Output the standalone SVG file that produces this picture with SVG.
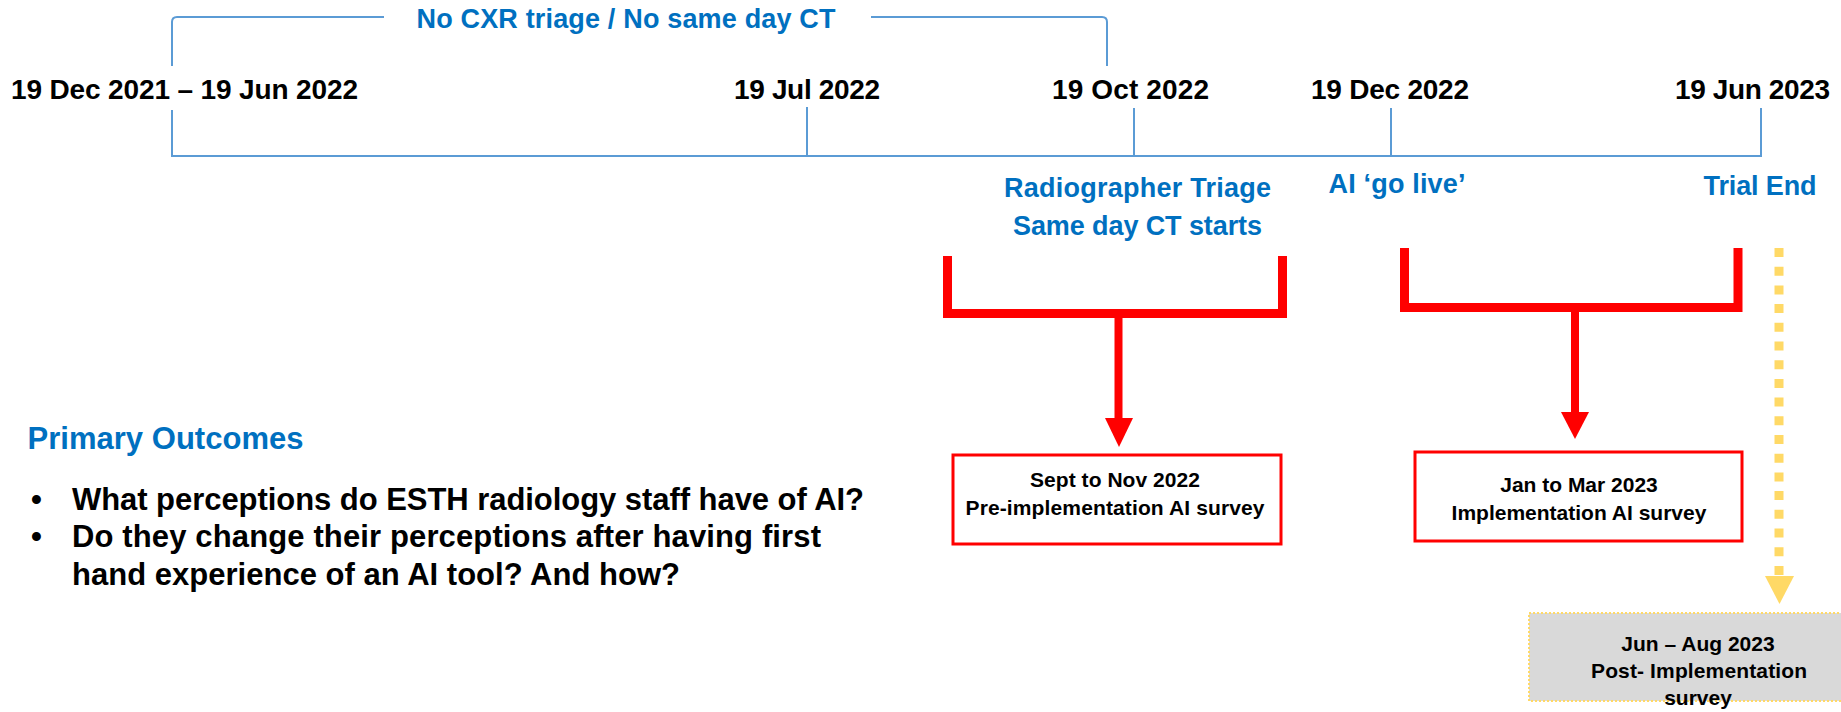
<svg xmlns="http://www.w3.org/2000/svg" width="1841" height="712" viewBox="0 0 1841 712">
<style>
.tl{fill:none;stroke:#5B9BD5;stroke-width:2}
.date{font-family:"Liberation Sans",Arial,sans-serif;font-weight:bold;font-size:28px;fill:#000}
.blue{font-family:"Liberation Sans",Arial,sans-serif;font-weight:bold;font-size:27px;fill:#0070C0}
.body{font-family:"Liberation Sans",Arial,sans-serif;font-weight:bold;font-size:31px;fill:#000}
.box{font-family:"Liberation Sans",Arial,sans-serif;font-weight:bold;font-size:21px;fill:#000}
.rb{fill:none;stroke:#FF0000;stroke-width:9;stroke-linejoin:miter;stroke-linecap:butt}
.stem{fill:none;stroke:#FF0000;stroke-width:8}
.head{fill:#FF0000}
.rbox{fill:#fff;stroke:#FF0000;stroke-width:3}
.ydot{fill:none;stroke:#FFD966;stroke-width:9;stroke-dasharray:9 9.7}
.yhead{fill:#FFD966}
</style>
<rect width="1841" height="712" fill="#fff"/>
<g id="timeline">
<path class="tl" d="M172,66 V22 Q172,17 177,17 H384 M871,17 H1102 Q1107,17 1107,22 V66"/>
<path class="tl" d="M172,110 V156 H1761 V108"/>
<path class="tl" d="M807,107 V156 M1134,108 V156 M1391,108 V156"/>
<text class="blue" x="626" y="28" text-anchor="middle" textLength="419">No CXR triage / No same day CT</text>
<text class="date" x="11" y="99" textLength="347">19 Dec 2021 – 19 Jun 2022</text>
<text class="date" x="807" y="99" text-anchor="middle" textLength="146">19 Jul 2022</text>
<text class="date" x="1130.5" y="99" text-anchor="middle" textLength="157">19 Oct 2022</text>
<text class="date" x="1390" y="99" text-anchor="middle" textLength="158">19 Dec 2022</text>
<text class="date" x="1752.5" y="99" text-anchor="middle" textLength="155">19 Jun 2023</text>
</g>
<g id="milestone-radiographer">
<text class="blue" x="1137.5" y="197" text-anchor="middle" textLength="267">Radiographer Triage</text>
<text class="blue" x="1137.5" y="235" text-anchor="middle" textLength="249">Same day CT starts</text>
</g>
<g id="milestone-ai">
<text class="blue" x="1397" y="193" text-anchor="middle" textLength="137">AI ‘go live’</text>
</g>
<g id="milestone-trial-end">
<text class="blue" x="1760" y="195" text-anchor="middle" textLength="113">Trial End</text>
</g>
<g id="bracket-1">
<polyline class="rb" points="947.5,256 947.5,313.5 1282.5,313.5 1282.5,256"/>
</g>
<g id="bracket-2">
<polyline class="rb" points="1404.5,248 1404.5,307.5 1738,307.5 1738,248"/>
</g>
<g id="box-pre">
<rect class="rbox" x="953" y="455" width="328" height="89"/>
<text class="box" x="1115" y="487" text-anchor="middle" textLength="170">Sept to Nov 2022</text>
<text class="box" x="1115" y="515" text-anchor="middle" textLength="299">Pre-implementation AI survey</text>
</g>
<g id="box-impl">
<rect class="rbox" x="1415" y="452" width="327" height="89"/>
<text class="box" x="1579" y="492" text-anchor="middle">Jan to Mar 2023</text>
<text class="box" x="1579" y="520" text-anchor="middle">Implementation AI survey</text>
</g>
<g id="box-post">
<rect x="1529" y="613" width="320" height="88" fill="#D9D9D9" stroke="#FFD966" stroke-width="2" stroke-dasharray="2 2"/>
<text class="box" x="1698" y="651" text-anchor="middle">Jun – Aug 2023</text>
<text class="box" x="1699" y="678" text-anchor="middle" textLength="216">Post- Implementation</text>
<text class="box" x="1698" y="705" text-anchor="middle">survey</text>
</g>
<g id="outcomes">
<text class="body" x="27.5" y="449" fill="#0070C0" style="fill:#0070C0" textLength="276">Primary Outcomes</text>
<text class="body" x="31" y="510">•</text>
<text class="body" x="72" y="510" textLength="792">What perceptions do ESTH radiology staff have of AI?</text>
<text class="body" x="31" y="547">•</text>
<text class="body" x="72" y="547" textLength="749">Do they change their perceptions after having first</text>
<text class="body" x="72" y="585" textLength="608">hand experience of an AI tool? And how?</text>
</g>
<g id="connectors">
<line class="stem" x1="1118.5" y1="313" x2="1118.5" y2="420"/>
<polygon class="head" points="1105,418 1133,418 1119,447"/>
<line class="stem" x1="1575" y1="307" x2="1575" y2="414"/>
<polygon class="head" points="1561,412 1589,412 1575,439"/>
<line class="ydot" x1="1779" y1="248" x2="1779" y2="575"/>
<polygon class="yhead" points="1765,576 1794,576 1779.5,604"/>
</g>
</svg>
